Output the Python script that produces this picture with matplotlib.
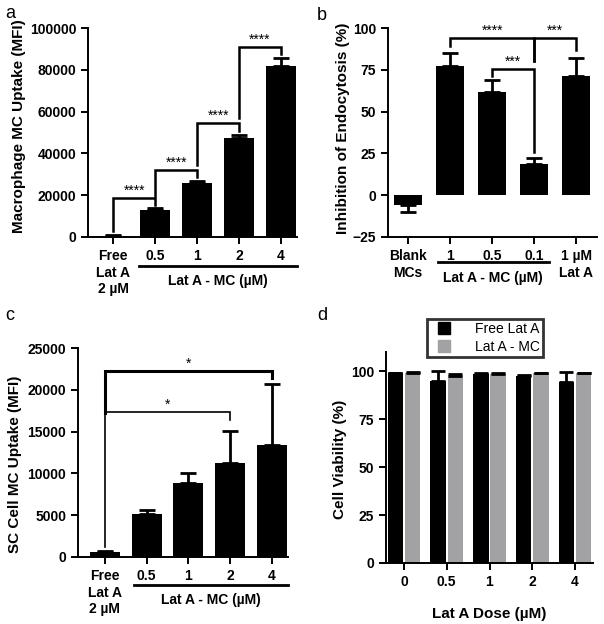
import matplotlib
matplotlib.use("Agg")
import matplotlib.pyplot as plt
from matplotlib.lines import Line2D
import numpy as np

plt.rcParams['font.family'] = ['Liberation Sans', 'DejaVu Sans']
plt.rcParams['font.weight'] = 'bold'
plt.rcParams['axes.linewidth'] = 1.4

# ---------------- data ----------------
a_labels = ["Free\nLat A\n2 µM", "0.5", "1", "2", "4"]
a_vals = [500, 13000, 26000, 47500, 82000]
a_err = [300, 1000, 600, 1500, 3500]

b_labels = ["Blank\nMCs", "1", "0.5", "0.1", "1 µM\nLat A"]
b_vals = [-6, 77, 62, 18.5, 71]
b_err = [4, 8, 7, 3.5, 11]

c_labels = ["Free\nLat A\n2 µM", "0.5", "1", "2", "4"]
c_vals = [600, 5200, 8800, 11200, 13400]
c_err = [100, 400, 1300, 3900, 7300]

d_doses = ["0", "0.5", "1", "2", "4"]
d_free = [99, 95, 98.5, 97.5, 94.5]
d_free_err = [0.3, 5, 0.3, 0.3, 5]
d_mc = [99, 97.5, 98.5, 99, 99]
d_mc_err = [0.4, 1, 0.4, 0.3, 0.3]

W, H = 604, 624
fig = plt.figure(figsize=(W / 100, H / 100), dpi=100)


def add_ax(l, r, t, b):
    return fig.add_axes([l / W, 1 - b / H, (r - l) / W, (b - t) / H])


def style(ax):
    ax.spines['top'].set_visible(False)
    ax.spines['right'].set_visible(False)
    ax.tick_params(direction='out', length=5, width=1.4, labelsize=10)
    for lab in ax.get_yticklabels() + ax.get_xticklabels():
        lab.set_fontweight('bold')


def bars(ax, vals, errs, width):
    x = np.arange(len(vals))
    lo = [e if v < 0 else 0 for v, e in zip(vals, errs)]
    hi = [0 if v < 0 else e for v, e in zip(vals, errs)]
    ax.bar(x, vals, width=width, color='black', zorder=2)
    ax.errorbar(x, vals, yerr=[lo, hi], fmt='none', ecolor='black',
                elinewidth=2, capsize=6, capthick=2, zorder=3)


def bracket(ax, x1, x2, ytop, y1, y2, stars, lw=1.8, fs=10, xs=None):
    ax.plot([x1, x1, x2, x2], [y1, ytop, ytop, y2], color='black', lw=lw,
            solid_joinstyle='miter', clip_on=False, zorder=4)
    xm = (x1 + x2) / 2 if xs is None else xs
    ax.text(xm, ytop, stars, ha='center', va='bottom', fontsize=fs,
            fontweight='normal', clip_on=False)


def group_line(ax, x1, x2, ypx_line, ypx_text, axb, axh, text):
    tr = ax.get_xaxis_transform()
    yl = -(ypx_line - axb) / axh
    yt = -(ypx_text - axb) / axh
    ax.plot([x1, x2], [yl, yl], transform=tr, color='black', lw=2, clip_on=False)
    ax.text((x1 + x2) / 2, yt, text, transform=tr, ha='center', va='center',
            fontsize=10, fontweight='bold')


# ---------------- panel a ----------------
ax = add_ax(88, 297, 28, 237)
bars(ax, a_vals, a_err, 0.72)
ax.set_xlim(-0.6, 4.38)
ax.set_ylim(0, 100000)
ax.set_yticks([0, 20000, 40000, 60000, 80000, 100000])
ax.set_xticks(range(5))
ax.set_xticklabels(a_labels, linespacing=1.25)
ax.set_ylabel("Macrophage MC Uptake (MFI)", fontsize=11, fontweight='bold', va='center')
ax.yaxis.set_label_coords(-0.33, 0.53)
style(ax)
bracket(ax, 0, 1, 18700, 3000, 15500, "****")
bracket(ax, 1, 2, 32000, 19500, 28500, "****")
bracket(ax, 2, 3, 54500, 34500, 50500, "****")
bracket(ax, 3, 4, 91000, 57000, 87500, "****")
group_line(ax, 0.62, 4.38, 266, 281, 237, 209, "Lat A - MC (µM)")

# ---------------- panel b ----------------
ax = add_ax(388, 597, 28, 237)
bars(ax, b_vals, b_err, 0.66)
ax.set_xlim(-0.48, 4.5)
ax.set_ylim(-25, 100)
ax.set_yticks([-25, 0, 25, 50, 75, 100])
ax.set_xticks(range(5))
ax.set_xticklabels(b_labels, linespacing=1.25)
ax.set_ylabel("Inhibition of Endocytosis (%)", fontsize=11, fontweight='bold', va='center')
ax.yaxis.set_label_coords(-0.215, 0.52)
style(ax)
bracket(ax, 1, 3, 94, 89.5, 80, "****")
bracket(ax, 3, 4, 94, 80, 87, "***")
bracket(ax, 2, 3, 75.5, 71.5, 26, "***")
group_line(ax, 0.7, 3.35, 262, 278, 237, 209, "Lat A - MC (µM)")

# ---------------- panel c ----------------
ax = add_ax(78, 288, 348, 557)
bars(ax, c_vals, c_err, 0.72)
ax.set_xlim(-0.64, 4.38)
ax.set_ylim(0, 25000)
ax.set_yticks([0, 5000, 10000, 15000, 20000, 25000])
ax.set_xticks(range(5))
ax.set_xticklabels(c_labels, linespacing=1.25)
ax.set_ylabel("SC Cell MC Uptake (MFI)", fontsize=11, fontweight='bold', va='center')
ax.yaxis.set_label_coords(-0.30, 0.445)
style(ax)
bracket(ax, 0, 4, 22300, 17200, 21400, "*", lw=2.2)
bracket(ax, 0, 3, 17400, 1200, 16400, "*", lw=1.2)
group_line(ax, 0.7, 4.38, 585, 600, 557, 209, "Lat A - MC (µM)")

# ---------------- panel d ----------------
ax = add_ax(386, 593, 352, 563)
x = np.arange(len(d_doses))
off, bw = 0.2, 0.36
ax.bar(x - off, d_free, width=bw, color='black', zorder=2, label='Free Lat A')
ax.bar(x + off, d_mc, width=bw, color='#a2a2a4', zorder=2, label='Lat A - MC')
ax.errorbar(x - off, d_free, yerr=[np.zeros(5), d_free_err], fmt='none', ecolor='black',
            elinewidth=2, capsize=5, capthick=2, zorder=3)
ax.errorbar(x + off, d_mc, yerr=[np.zeros(5), d_mc_err], fmt='none', ecolor='black',
            elinewidth=2, capsize=5, capthick=2, zorder=3)
ax.set_xlim(-0.42, 4.42)
ax.set_ylim(0, 110)
ax.set_yticks([0, 25, 50, 75, 100])
ax.set_xticks(x)
ax.set_xticklabels(d_doses)
ax.set_ylabel("Cell Viability (%)", fontsize=11, fontweight='bold', va='center')
ax.yaxis.set_label_coords(-0.222, 0.49)
ax.set_xlabel("Lat A Dose (µM)", fontsize=11, fontweight='bold', labelpad=13)
style(ax)
handles = [Line2D([], [], marker='s', ls='none', color='black', markersize=8),
           Line2D([], [], marker='s', ls='none', color='#a2a2a4', markersize=8)]
leg = ax.legend(handles, ['Free Lat A', 'Lat A - MC'], loc='upper center',
                bbox_to_anchor=(0.478, 1.19), frameon=True, fancybox=False,
                edgecolor='black', handletextpad=1.2,
                borderpad=0.25, labelspacing=0.25, prop={'weight': 'normal', 'size': 10})
leg.get_frame().set_linewidth(2)

# panel letters
for letter, (px, py) in zip("abcd", [(10, 14), (322, 15), (10, 316), (322, 316)]):
    fig.text(px / W, 1 - py / H, letter, fontsize=13, fontweight='normal',
             ha='center', va='center')

fig.savefig("out.png", dpi=100)
